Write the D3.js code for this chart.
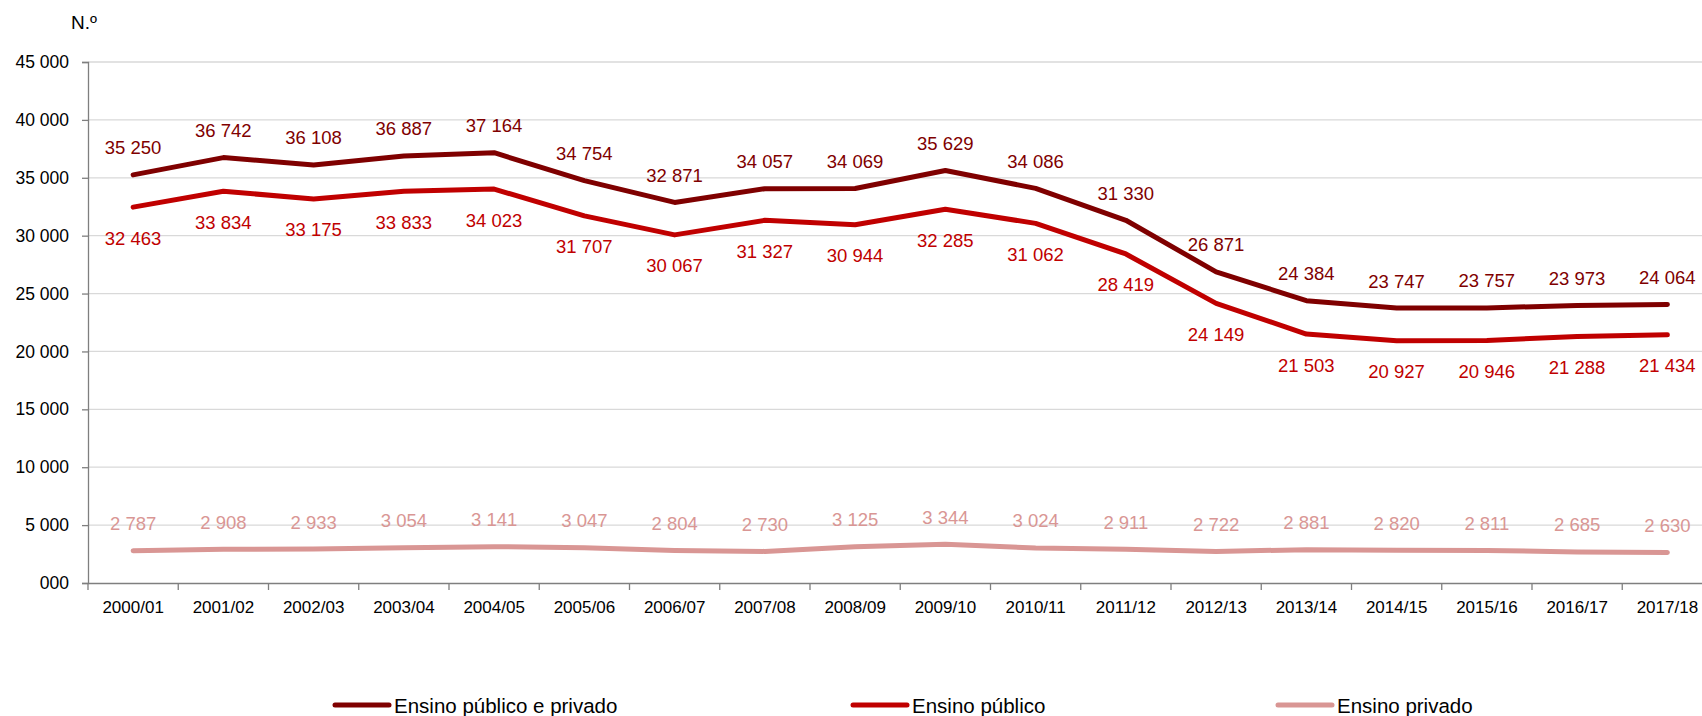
<!DOCTYPE html>
<html><head><meta charset="utf-8">
<script src="https://cdn.jsdelivr.net/npm/d3@7"></script>
<style>body{margin:0;background:#fff;} svg{display:block;font-family:"Liberation Sans",Arial,sans-serif;}</style>
</head><body><svg id="c" width="1702" height="716"></svg>
<script>
const categories = ["2000/01","2001/02","2002/03","2003/04","2004/05","2005/06","2006/07","2007/08","2008/09","2009/10","2010/11","2011/12","2012/13","2013/14","2014/15","2015/16","2016/17","2017/18"];
const total   = [35250,36742,36108,36887,37164,34754,32871,34057,34069,35629,34086,31330,26871,24384,23747,23757,23973,24064];
const publico = [32463,33834,33175,33833,34023,31707,30067,31327,30944,32285,31062,28419,24149,21503,20927,20946,21288,21434];
const privado = [2787,2908,2933,3054,3141,3047,2804,2730,3125,3344,3024,2911,2722,2881,2820,2811,2685,2630];
const yTicks = [0,5000,10000,15000,20000,25000,30000,35000,40000,45000];
const yTickLabels = ["000","5 000","10 000","15 000","20 000","25 000","30 000","35 000","40 000","45 000"];
const seriesNames = ["Ensino público e privado","Ensino público","Ensino privado"];
const colors = ["#7f0000","#c00000","#d99694"];

const svg = d3.select("#c");
const mLeft = 88, mTop = 62, mBottom = 583, band = 90.25;
const x = d3.scaleBand().domain(categories).range([mLeft, mLeft + band*categories.length]);
const y = d3.scaleLinear().domain([0,45000]).range([mBottom, mTop]);
const fmt = v => d3.format(",")(v).replace(/,/g, " ");

// gridlines
svg.append("g").selectAll("line").data(yTicks.filter(d=>d>0)).join("line")
  .attr("x1", mLeft).attr("x2", 1702).attr("y1", d=>y(d)).attr("y2", d=>y(d))
  .attr("stroke", "#d9d9d9").attr("stroke-width", 1.3);

// y axis
const ya = svg.append("g").attr("transform", `translate(${mLeft},0)`)
  .call(d3.axisLeft(y).tickValues(yTicks).tickSize(6).tickPadding(13).tickFormat((d,i)=>yTickLabels[i]));
ya.select(".domain").attr("stroke","#7f7f7f").attr("stroke-width",1.3);
ya.selectAll(".tick line").attr("stroke","#7f7f7f").attr("stroke-width",1.3);
ya.selectAll("text").attr("font-size", 17.5).attr("fill","#000").attr("font-family","Liberation Sans, Arial");

// x axis
const xa = svg.append("g").attr("transform", `translate(0,${mBottom})`)
  .call(d3.axisBottom(x).tickSize(0).tickPadding(18));
xa.select(".domain").attr("stroke","#7f7f7f").attr("stroke-width",1.3);
xa.selectAll("text").attr("font-size", 17).attr("fill","#000").attr("font-family","Liberation Sans, Arial");
svg.append("g").selectAll("line").data(d3.range(categories.length+1)).join("line")
  .attr("x1", i=>mLeft+i*band).attr("x2", i=>mLeft+i*band).attr("y1", mBottom).attr("y2", mBottom+7)
  .attr("stroke","#7f7f7f").attr("stroke-width",1.3);

svg.append("text").attr("x", 71).attr("y", 29).attr("font-size", 19).text("N.º");

const cx = d => x(d) + x.bandwidth()/2;
const data = [total, publico, privado];
const offsets = [-27, 31, -27];
const line = d3.line().x((d,i)=>cx(categories[i])).y(d=>y(d));
data.forEach((s, k) => {
  svg.append("path").datum(s).attr("d", line).attr("fill","none")
    .attr("stroke", colors[k]).attr("stroke-width", 5).attr("stroke-linecap","round").attr("stroke-linejoin","round");
});
data.forEach((s, k) => {
  svg.append("g").selectAll("text").data(s).join("text")
    .attr("x", (d,i)=>cx(categories[i])).attr("y", d=>y(d)+offsets[k])
    .attr("text-anchor","middle").attr("dominant-baseline","central")
    .attr("font-size", 18.5).attr("fill", colors[k]).text(d=>fmt(d));
});

// legend
const legX = [335, 853, 1278];
const lg = svg.append("g");
seriesNames.forEach((n,k)=>{
  lg.append("line").attr("x1", legX[k]).attr("x2", legX[k]+54).attr("y1", 705).attr("y2", 705)
    .attr("stroke", colors[k]).attr("stroke-width", 5).attr("stroke-linecap","round");
  lg.append("text").attr("x", legX[k]+59).attr("y", 705).attr("dominant-baseline","central")
    .attr("font-size", 20.5).attr("fill","#000").text(n);
});
</script></body></html>
